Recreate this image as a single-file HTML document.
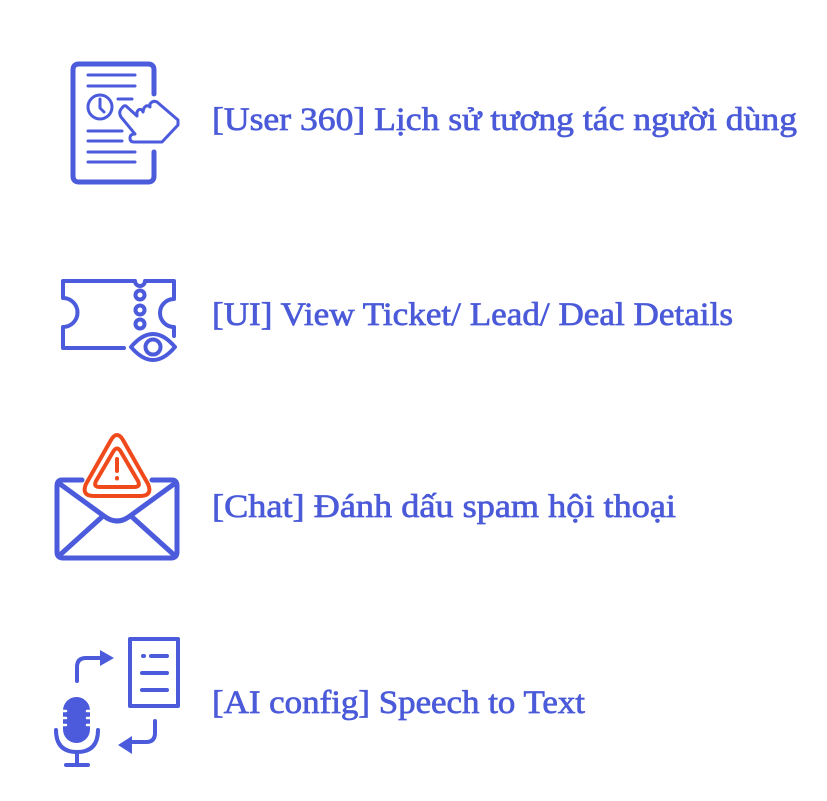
<!DOCTYPE html>
<html><head><meta charset="utf-8"><style>
html,body{margin:0;padding:0;background:#fff;}
svg{display:block;}
text{font-family:"Liberation Serif","DejaVu Serif",serif;font-size:32.5px;fill:#4a5ad8;stroke:#4a5ad8;stroke-width:0.7px;}
</style></head><body>
<svg width="827" height="801" viewBox="0 0 827 801" xmlns="http://www.w3.org/2000/svg">
<rect width="827" height="801" fill="#fff"/>
<g fill="none" stroke="#4b5bdc" stroke-linecap="round" stroke-linejoin="round">
  <!-- Icon 1 -->
  <path d="M154 94 V70 Q154 64 148 64 H79 Q73 64 73 70 V176 Q73 182 79 182 H148 Q154 182 154 176 V152" stroke-width="5"/>
  <g stroke-width="3">
    <line x1="88" y1="75" x2="135" y2="75"/>
    <line x1="88" y1="86" x2="135" y2="86"/>
    <line x1="118" y1="99" x2="132" y2="99"/>
    <line x1="88" y1="131" x2="122" y2="131"/>
    <line x1="88" y1="141" x2="122" y2="141"/>
    <line x1="88" y1="152" x2="135" y2="152"/>
    <line x1="88" y1="162" x2="135" y2="162"/>
    <circle cx="100" cy="107" r="12"/>
    <path d="M100 99 V108 L104 112"/>
    <path d="M126 106 L137 116 L137 112 Q139 108 142 110 L143 112 L144 108 Q147 104 150 107 L150 104 Q153 100 157 102 L178 120 L178 125 L162 142 H134 Q130 142 130 138 Q130 134 135 134 L121 117 Q118 112 122 108 Q124 105 126 106 Z"/>
  </g>
  <!-- Icon 2 -->
  <g stroke-width="4">
    <path d="M124 348 H63 V327 A14 14 0 0 0 63 298 V281 H135 A5 5 0 0 0 145 281 H174 V299 A14 14 0 0 0 174 327 V336"/>
    <circle cx="140" cy="295" r="4.5"/>
    <circle cx="140" cy="310" r="4.5"/>
    <circle cx="140" cy="324" r="4.5"/>
    <path d="M131 347 Q153 321 175 347 Q153 373 131 347 Z"/>
    <circle cx="153" cy="347" r="7.5"/>
  </g>
  <!-- Icon 4 -->
  <g stroke-width="4">
    <rect x="130" y="639" width="48" height="67"/>
    <line x1="143" y1="656" x2="144" y2="656"/>
    <line x1="151" y1="656" x2="167" y2="656"/>
    <line x1="142" y1="673" x2="167" y2="673"/>
    <line x1="142" y1="690" x2="167" y2="690"/>
    <path d="M77 681 V667 Q77 658 86 658 H101"/>
    <path d="M155 721 V733 Q155 742 146 742 H131"/>
    <path d="M56 730 Q56 752 77 752 Q98 752 98 730"/>
    <line x1="77" y1="752" x2="77" y2="765"/>
    <line x1="66" y1="765" x2="88" y2="765"/>
  </g>
</g>
<g fill="#4b5bdc">
  <path d="M100 650 L114 658 L100 666 Z"/>
  <path d="M132 736 L118 745 L132 754 Z"/>
  <rect x="63" y="697" width="27" height="46" rx="13.5"/>
</g>
<g stroke="#fff" stroke-width="2.5" stroke-linecap="round">
  <line x1="62" y1="711" x2="66" y2="711"/><line x1="87" y1="711" x2="91" y2="711"/>
  <line x1="62" y1="718" x2="66" y2="718"/><line x1="87" y1="718" x2="91" y2="718"/>
  <line x1="62" y1="725" x2="66" y2="725"/><line x1="87" y1="725" x2="91" y2="725"/>
</g>
<!-- Icon 3 envelope -->
<g fill="none" stroke="#4b5bdc" stroke-width="5" stroke-linecap="round" stroke-linejoin="round">
  <path d="M82 480 H62 Q57 480 57 486 V552 Q57 558 63 558 H171 Q177 558 177 552 V486 Q177 480 172 480 H152"/>
  <path d="M60 484 L104 516 Q117 526 130 516 L174 484"/>
  <line x1="103" y1="516" x2="61" y2="554"/>
  <line x1="131" y1="516" x2="173" y2="554"/>
</g>
<g fill="#fff" stroke="#f04a1c" stroke-width="4" stroke-linejoin="round" stroke-linecap="round">
  <path d="M111 440 Q117 430 123 440 L148 484 Q153 496 140 496 H94 Q81 496 86 484 Z"/>
  <path d="M113 452 Q117 445 121 452 L138 481 Q141 487 134 487 H100 Q93 487 96 481 Z" fill="none"/>
  <line x1="117" y1="459" x2="117" y2="471"/>
  <line x1="117" y1="478" x2="117" y2="478.5"/>
</g>
<text x="212" y="130" textLength="585" lengthAdjust="spacingAndGlyphs">[User 360] Lịch sử tương tác người dùng</text>
<text x="212" y="325" textLength="521" lengthAdjust="spacingAndGlyphs">[UI] View Ticket/ Lead/ Deal Details</text>
<text x="212" y="517" textLength="464" lengthAdjust="spacingAndGlyphs">[Chat] Đánh dấu spam hội thoại</text>
<text x="212" y="713" textLength="373" lengthAdjust="spacingAndGlyphs">[AI config] Speech to Text</text>
</svg>
</body></html>
